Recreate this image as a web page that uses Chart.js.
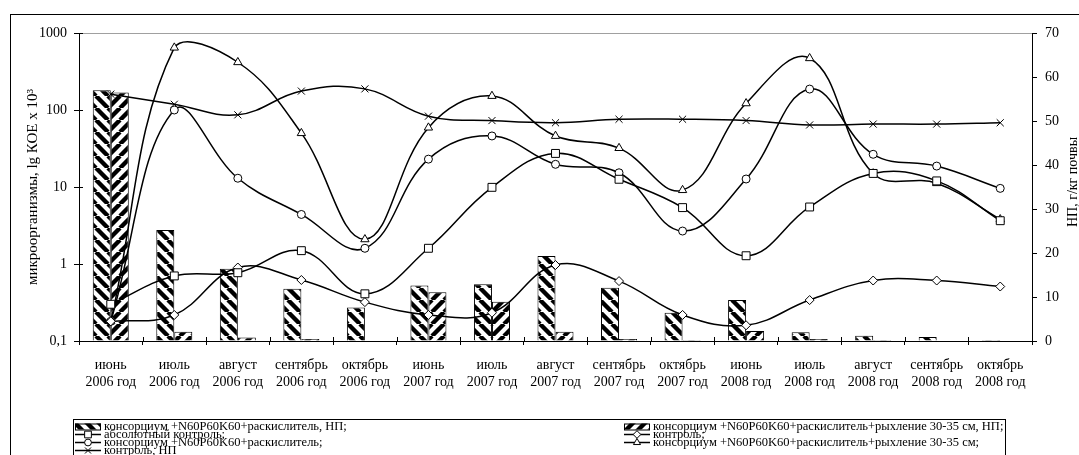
<!DOCTYPE html>
<html>
<head>
<meta charset="utf-8">
<script src="https://cdn.jsdelivr.net/npm/chart.js@4.4.1/dist/chart.umd.min.js"></script>
<style>
html,body{margin:0;padding:0;background:#fff;overflow:hidden;}
canvas{display:block;}
</style>
</head>
<body>
<canvas id="c" width="1079" height="455"></canvas>
<script>
// categories
const months=['июнь','июль','август','сентябрь','октябрь','июнь','июль','август','сентябрь','октябрь','июнь','июль','август','сентябрь','октябрь'];
const years=['2006 год','2006 год','2006 год','2006 год','2006 год','2007 год','2007 год','2007 год','2007 год','2007 год','2008 год','2008 год','2008 год','2008 год','2008 год'];
// НП, г/кг почвы (right axis)
const npConsortium=[57,25.2,16.4,11.9,7.6,12.6,12.9,19.3,12.1,6.4,9.3,2.0,1.2,0.9,0.2];
const npLoosening=[56.5,2.1,0.8,0.45,0,11.1,8.9,2.1,0.45,0.2,2.3,0.45,0.2,0,0];
const npControl=[56.1,53.8,51.4,56.8,57.3,51.1,50.1,49.6,50.4,50.4,50.1,49.1,49.3,49.3,49.6];
// микроорганизмы, lg КОЕ x 10^3 (left log axis)
const absControl=[0.30,0.70,0.77,1.49,0.41,1.6,9.9,27.3,12.6,5.4,1.28,5.5,15,12,3.65];
const control=[0.18,0.218,0.90,0.62,0.32,0.218,0.233,0.97,0.60,0.218,0.16,0.34,0.61,0.61,0.51];
const consortium=[0.18,100,13,4.4,1.6,23,46,19.7,15.3,2.68,12.7,187,26.6,18.7,9.6];
const loosening=[0.18,645,417,50,2.09,59,152,46,32,9.1,122,470,15,11.2,3.8];
// tick labels
const logTicks=[0.1,1,10,100,1000];
const rightTicks=[0,10,20,30,40,50,60,70];

const FONT='"Liberation Serif","Times New Roman",serif';
Chart.defaults.font.family=FONT;
Chart.defaults.color='#000';

function hatch(dir){
  const s=12,c=document.createElement('canvas');
  c.width=s;c.height=s;
  const g=c.getContext('2d');
  g.fillStyle='#fff';g.fillRect(0,0,s,s);
  g.strokeStyle='#000';g.lineWidth=4.4;g.beginPath();
  for(let k=-1;k<=1;k++){
    if(dir==='\\'){g.moveTo(k*s,0);g.lineTo(k*s+s,s);}
    else{g.moveTo(k*s,s);g.lineTo(k*s+s,0);}
  }
  g.stroke();
  return g.createPattern(c,'repeat');
}

function lineSet(label,data,style,r,axis){
  return {type:'line',label,data,yAxisID:axis||'y',order:1,
    borderColor:'#000',borderWidth:1.5,tension:0.4,
    pointStyle:style,pointRadius:r,pointHoverRadius:r,
    pointBackgroundColor:'#fff',pointBorderColor:'#000',pointBorderWidth:1};
}

const labels=months.map((m,i)=>[m,years[i]]);
const datasets=[
  {type:'bar',label:'консорциум +N60P60K60+раскислитель, НП;',data:npConsortium,yAxisID:'y1',order:2,
   backgroundColor:hatch('\\'),borderColor:'#000',borderWidth:1,categoryPercentage:0.567,barPercentage:1},
  {type:'bar',label:'консорциум +N60P60K60+раскислитель+рыхление 30-35 см, НП;',data:npLoosening,yAxisID:'y1',order:2,
   backgroundColor:hatch('/'),borderColor:'#000',borderWidth:1,categoryPercentage:0.567,barPercentage:1},
  lineSet('абсолютный контроль;',absControl,'rect',5.6),
  lineSet('контроль;',control,'rectRot',4.5),
  lineSet('консорциум +N60P60K60+раскислитель;',consortium,'circle',4),
  lineSet('консорциум +N60P60K60+раскислитель+рыхление 30-35 см;',loosening,'triangle',4.8),
  lineSet('контроль, НП',npControl,'crossRot',5,'y1')
];

const frame={id:'frame',beforeDraw(chart){
  const c=chart.ctx;c.save();c.strokeStyle='#000';c.lineWidth=1;
  c.strokeRect(10.5,14.5,1200,600);c.restore();
}};

const innerTicks={id:'innerTicks',afterDraw(chart){
  const c=chart.ctx,a=chart.chartArea,y=chart.scales.y;
  c.save();c.strokeStyle='#000';c.lineWidth=1;c.beginPath();
  y.ticks.forEach(t=>{const py=Math.round(y.getPixelForValue(t.value))+0.5;c.moveTo(a.left,py);c.lineTo(a.left+4,py);});
  const n=chart.data.labels.length,step=a.width/n;
  for(let i=0;i<=n;i++){const px=Math.round(a.left+i*step)+0.5;c.moveTo(px,a.bottom);c.lineTo(px,a.bottom-4);}
  c.stroke();
  // right axis title, reads bottom to top
  c.font='14px '+FONT;c.fillStyle='#000';c.textAlign='center';c.textBaseline='middle';
  c.translate(1073,(a.top+a.bottom)/2-5);c.rotate(-Math.PI/2);
  c.fillText('НП, г/кг почвы',0,0);
  c.restore();
}};

const boxLegend={id:'boxLegend',afterDraw(chart){
  const c=chart.ctx;c.save();
  c.strokeStyle='#000';c.lineWidth=1;c.strokeRect(73.5,419.5,932,60);
  c.font='12.5px '+FONT;c.textBaseline='alphabetic';c.textAlign='left';
  chart.data.datasets.forEach((d,i)=>{
    const x=i%2?624:75,base=430+Math.floor(i/2)*8,y=base-3.5;
    if(d.type==='bar'){
      c.fillStyle=d.backgroundColor;c.fillRect(x,y-3,26,6);
      c.strokeStyle='#000';c.strokeRect(x+0.5,y-2.5,25,6);
    }else{
      c.strokeStyle='#000';c.lineWidth=1.5;c.beginPath();c.moveTo(x,y);c.lineTo(x+26,y);c.stroke();
      c.lineWidth=1;c.fillStyle='#fff';
      Chart.helpers.drawPoint(c,{pointStyle:d.pointStyle,radius:d.pointRadius*0.85,rotation:0,borderWidth:1},x+13,y);
    }
    c.fillStyle='#000';c.fillText(d.label,x+29,base);
  });
  c.restore();
}};

new Chart(document.getElementById('c'),{
  type:'bar',
  data:{labels,datasets},
  options:{
    responsive:false,animation:false,devicePixelRatio:1,
    layout:{padding:{left:20,top:33,right:0,bottom:0}},
    plugins:{legend:{display:false},tooltip:{enabled:false}},
    scales:{
      x:{offset:true,
        grid:{offset:true,drawOnChartArea:false,tickLength:4,color:'#000'},
        border:{color:'#000'},
        ticks:{font:{size:14},padding:12,maxRotation:0,autoSkip:false},
        afterFit(s){s.height=455-341;}},
      y:{type:'logarithmic',position:'left',min:0.1,max:1000,
        afterBuildTicks(s){s.ticks=logTicks.map(v=>({value:v}));},
        ticks:{font:{size:14},padding:7,callback:v=>String(v).replace('.',',')},
        grid:{color:c=>c.tick&&c.tick.value===1000?'#a0a0a0':'rgba(0,0,0,0)',tickColor:'#000',tickLength:5},
        border:{color:'#000'},
        title:{display:true,text:'микроорганизмы, lg КОЕ х 10³',font:{size:15},padding:{top:4,bottom:0}},
        afterFit(s){s.width=59;}},
      y1:{position:'right',min:0,max:70,
        afterBuildTicks(s){s.ticks=rightTicks.map(v=>({value:v}));},
        ticks:{font:{size:14},padding:8},
        grid:{drawOnChartArea:false,tickLength:5,color:'#000'},
        border:{color:'#000'},
        afterFit(s){s.width=47;}}
    }
  },
  plugins:[frame,innerTicks,boxLegend]
});
</script>
</body>
</html>
